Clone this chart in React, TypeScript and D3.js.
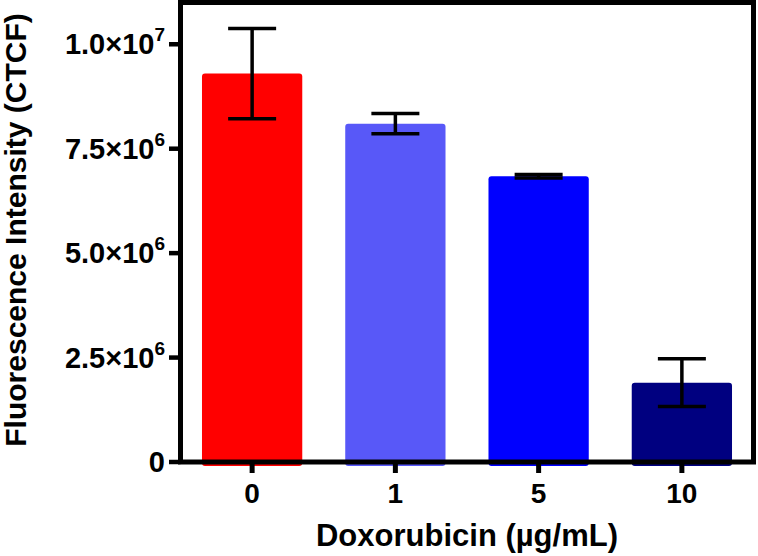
import React from "react";
import * as d3 from "d3";

const categories = ["0", "1", "5", "10"];
const means = [9.3e6, 8.1e6, 6.84e6, 1.9e6];
const sds = [1.08e6, 0.24e6, 0.04e6, 0.57e6];
const colors = ["#FF0000", "#5858F8", "#0000FF", "#000080"];
const yTicks = [0, 2.5e6, 5e6, 7.5e6, 1e7];
const yTickMantissa = ["0", "2.5", "5.0", "7.5", "1.0"];
const yTickExp = ["", "6", "6", "6", "7"];
const xTitle = "Doxorubicin (µg/mL)";
const yTitle = "Fluorescence Intensity (CTCF)";

const W = 758;
const H = 556;
const left = 180.5;
const right = 753.5;
const top = 2.5;
const bottom = 462;

export default function App() {
  const x = d3
    .scaleBand<string>()
    .domain(categories)
    .range([left, right])
    .paddingInner(0.3)
    .paddingOuter(0.15);
  const y = d3.scaleLinear().domain([0, 11e6]).range([bottom, top]);
  const font = "'Liberation Sans', Arial, sans-serif";
  const capW = 48;

  return (
    <svg
      width={W}
      height={H}
      style={{ position: "absolute", left: 0, top: 0 }}
      fontFamily={font}
      fontWeight="bold"
    >
      <rect x={0} y={0} width={W} height={H} fill="#fff" />
      {categories.map((c, i) => {
        const bx = x(c)!;
        const bw = x.bandwidth();
        const yt = y(means[i]);
        return (
          <rect
            key={c}
            x={bx}
            y={yt}
            width={bw}
            height={bottom - yt + 4}
            rx={3}
            fill={colors[i]}
          />
        );
      })}
      {categories.map((c, i) => {
        const cx = x(c)! + x.bandwidth() / 2;
        const yHi = y(means[i] + sds[i]);
        const yLo = y(means[i] - sds[i]);
        return (
          <g key={"e" + c} stroke="#000" strokeWidth={3.5}>
            <line x1={cx} x2={cx} y1={yHi} y2={yLo} />
            <line x1={cx - capW / 2} x2={cx + capW / 2} y1={yHi} y2={yHi} />
            <line x1={cx - capW / 2} x2={cx + capW / 2} y1={yLo} y2={yLo} />
          </g>
        );
      })}
      <rect
        x={left}
        y={top}
        width={right - left}
        height={bottom - top}
        fill="none"
        stroke="#000"
        strokeWidth={5}
      />
      {yTicks.map((t, i) => (
        <g key={"yt" + i}>
          <line x1={169} x2={left} y1={y(t)} y2={y(t)} stroke="#000" strokeWidth={4.5} />
          <text x={165} y={y(t) + 10} textAnchor="end" fontSize={29} fill="#000">
            {yTickExp[i] === "" ? (
              yTickMantissa[i]
            ) : (
              <>
                <tspan>{yTickMantissa[i]}×10</tspan>
                <tspan fontSize={19} dy={-13}>
                  {yTickExp[i]}
                </tspan>
              </>
            )}
          </text>
        </g>
      ))}
      {categories.map((c) => {
        const cx = x(c)! + x.bandwidth() / 2;
        return (
          <g key={"xt" + c}>
            <line x1={cx} x2={cx} y1={bottom} y2={473} stroke="#000" strokeWidth={5} />
            <text x={cx} y={503} textAnchor="middle" fontSize={28} fill="#000">
              {c}
            </text>
          </g>
        );
      })}
      <text x={(left + right) / 2} y={546} textAnchor="middle" fontSize={31} fill="#000">
        {xTitle}
      </text>
      <text
        transform={`translate(25.5, 230) rotate(-90)`}
        textAnchor="middle"
        fontSize={30}
        fill="#000"
      >
        {yTitle}
      </text>
    </svg>
  );
}
